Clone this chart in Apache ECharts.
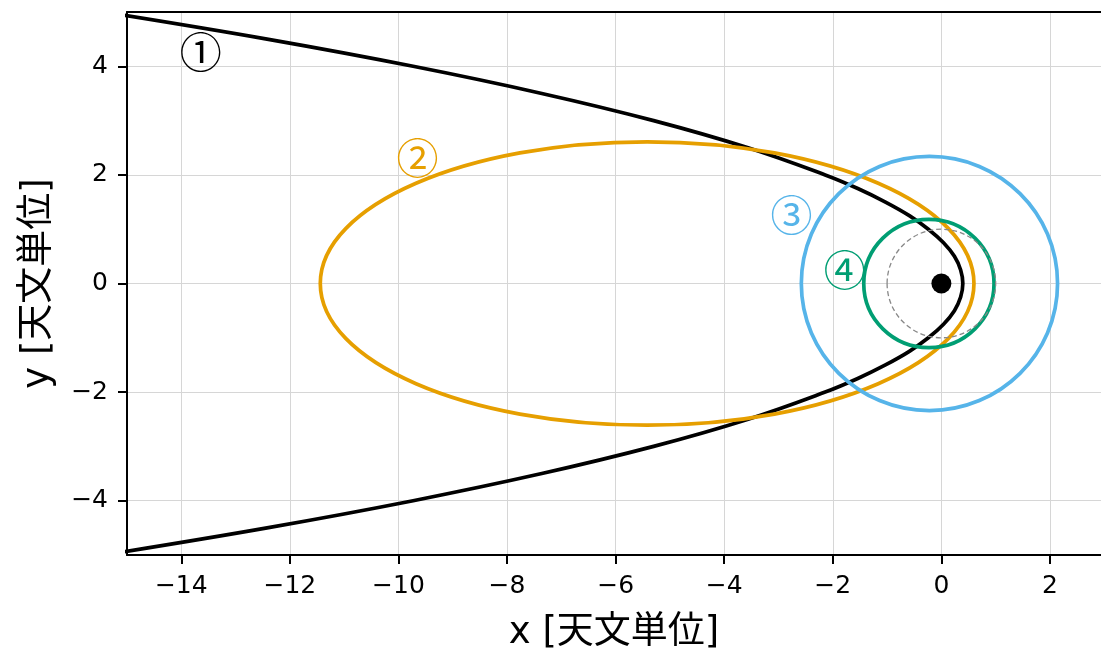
<!DOCTYPE html>
<html>
<head>
<meta charset="utf-8">
<script src="https://cdn.jsdelivr.net/npm/echarts@6/dist/echarts.min.js"></script>
<style>
html,body{margin:0;padding:0;background:#fff;}
#chart{width:1101px;height:657px;}
</style>
</head>
<body>
<div id="chart"></div>
<script>
// ---- data (units: AU) ----
const xTickValues = [-14, -12, -10, -8, -6, -4, -2, 0, 2];
const yTickValues = [-4, -2, 0, 2, 4];

// ① parabolic orbit
const parabolaX = [-15.43, -12.42, -9.73, -7.36, -5.30, -3.56, -2.14, -1.54, -1.03, -0.59, -0.24, 0.04, 0.24, 0.355, 0.395,
                   0.355, 0.24, 0.04, -0.24, -0.59, -1.03, -1.54, -2.14, -3.56, -5.30, -7.36, -9.73, -12.42, -15.43];
const parabolaY = [5.0, 4.5, 4.0, 3.5, 3.0, 2.5, 2.0, 1.75, 1.5, 1.25, 1.0, 0.75, 0.5, 0.25, 0,
                   -0.25, -0.5, -0.75, -1.0, -1.25, -1.5, -1.75, -2.0, -2.5, -3.0, -3.5, -4.0, -4.5, -5.0];

// ② ③ ④ elliptical orbits: centre x, centre y, semi-axis x, semi-axis y
const orbitNames   = ['②', '③', '④'];
const orbitCenterX = [-5.42, -0.22, -0.23];
const orbitCenterY = [0, 0, 0];
const orbitSemiX   = [6.02, 2.36, 1.20];
const orbitSemiY   = [2.61, 2.34, 1.18];

// reference orbit (dashed, r = 1 AU)
const refOrbit = [0, 0, 1, 1];
// Sun
const sunPos = [0, 0];

// orbit number labels
const labelText = ['①', '②', '③', '④'];
const labelX = [-13.64, -9.65, -2.76, -1.78];
const labelY = [4.27, 2.31, 1.26, 0.25];

// ---- styles ----
const orbitColors = ['#E69F00', '#56B4E9', '#009E73'];
const labelColors = ['#000000', '#E69F00', '#56B4E9', '#009E73'];
const FONT = 'DejaVu Sans, Noto Sans CJK JP';
const CJK = 'Noto Sans CJK JP';

const minus = v => String(v).replace('-', '\u2212');

function ellipseSeries(values, color, width, dash, z) {
  return {
    type: 'custom',
    coordinateSystem: 'cartesian2d',
    data: [values],
    encode: { x: 0, y: 1 },
    silent: true,
    z: z,
    renderItem: function (params, api) {
      const c = api.coord([api.value(0), api.value(1)]);
      const s = api.size([api.value(2), api.value(3)]);
      return {
        type: 'ellipse',
        shape: { cx: c[0], cy: c[1], rx: s[0], ry: s[1] },
        style: { fill: 'none', stroke: color, lineWidth: width, lineDash: dash }
      };
    }
  };
}

const series = [];
series.push({
  type: 'line',
  data: parabolaX.map((x, i) => [x, parabolaY[i]]),
  showSymbol: false,
  smooth: 0.4,
  clip: true,
  lineStyle: { color: '#000', width: 3.7 },
  silent: true,
  z: 2
});
orbitNames.forEach((n, i) => {
  series.push(ellipseSeries([orbitCenterX[i], orbitCenterY[i], orbitSemiX[i], orbitSemiY[i]],
    orbitColors[i], 3.7, null, 3 + i));
});
series.push(ellipseSeries(refOrbit, '#888888', 1.3, [5, 3], 7));
series.push({
  type: 'scatter',
  data: [sunPos],
  symbol: 'circle',
  symbolSize: 20,
  itemStyle: { color: '#000', opacity: 1 },
  silent: true,
  z: 8
});
series.push({
  type: 'scatter',
  data: labelX.map((x, i) => ({ value: [x, labelY[i]], label: { color: labelColors[i] } })),
  symbol: 'circle',
  symbolSize: 1,
  itemStyle: { color: 'rgba(0,0,0,0)', opacity: 1 },
  silent: true,
  z: 9,
  label: {
    show: true,
    position: 'inside',
    formatter: p => labelText[p.dataIndex],
    fontSize: 42,
    fontFamily: CJK
  }
});

const axisCommon = {
  type: 'value',
  nameLocation: 'middle',
  nameTextStyle: { fontSize: 37, color: '#000', fontFamily: FONT },
  axisLine: { show: true, onZero: false, lineStyle: { color: '#000', width: 2 } },
  axisTick: { show: true, inside: false, length: 9, lineStyle: { color: '#000', width: 2 } },
  axisLabel: { fontSize: 25, color: '#000', fontFamily: FONT, margin: 19 },
  splitLine: { show: true, lineStyle: { color: '#d6d6d6', width: 1 } }
};

const option = {
  animation: false,
  textStyle: { fontFamily: FONT },
  grid: {
    left: 127, top: 12, right: 0, height: 543,
    show: false, containLabel: false
  },
  xAxis: [
    Object.assign({}, axisCommon, {
      min: -15, max: 2.94,
      name: 'x [天文単位]',
      nameGap: 60,
      axisTick: Object.assign({}, axisCommon.axisTick, { customValues: xTickValues }),
      axisLabel: Object.assign({}, axisCommon.axisLabel, {
        customValues: xTickValues,
        formatter: v => (xTickValues.indexOf(v) >= 0 ? minus(v) : '')
      })
    }),
    {
      type: 'value', position: 'top', min: -15, max: 2.94,
      axisLine: { show: true, onZero: false, lineStyle: { color: '#000', width: 2 } },
      axisTick: { show: false }, axisLabel: { show: false }, splitLine: { show: false }
    }
  ],
  yAxis: Object.assign({}, axisCommon, {
    min: -5, max: 5,
    name: 'y [天文単位]',
    nameGap: 70,
    nameRotate: 90,
    axisTick: Object.assign({}, axisCommon.axisTick, { customValues: yTickValues }),
    axisLabel: Object.assign({}, axisCommon.axisLabel, {
      customValues: yTickValues,
      formatter: v => (yTickValues.indexOf(v) >= 0 ? minus(v) : '')
    })
  }),
  series: series
};

const chart = echarts.init(document.getElementById('chart'), null, { renderer: 'canvas' });
chart.setOption(option);
</script>
</body>
</html>
